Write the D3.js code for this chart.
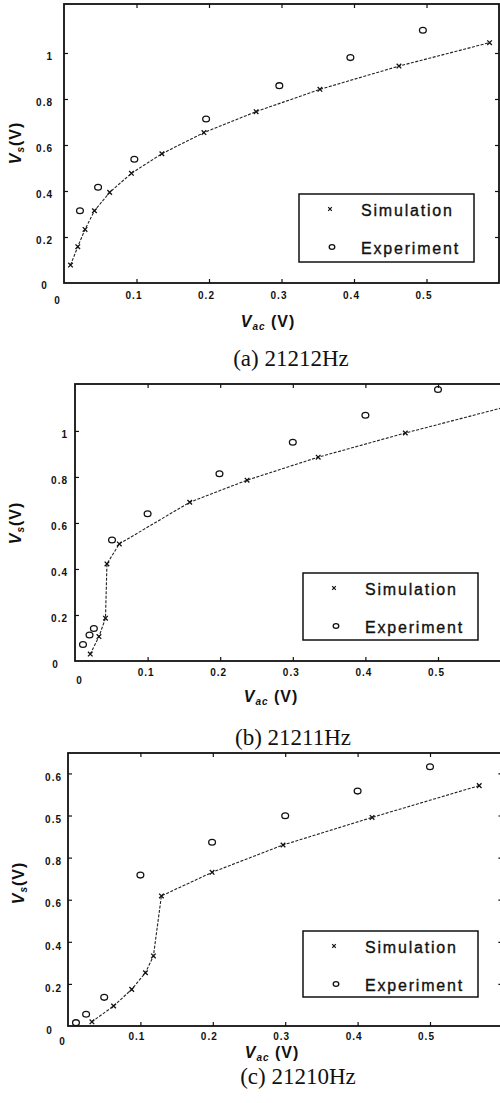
<!DOCTYPE html>
<html>
<head>
<meta charset="utf-8">
<script src="https://cdn.jsdelivr.net/npm/d3@7"></script>
<style>
	body{ margin:0; background:#fff; }
	svg{ display:block; }
	.tick text{ font-family:"Liberation Sans", Arial, sans-serif; font-size:10px; font-weight:bold; letter-spacing:1px; fill:#111; }
	.tick line{ stroke:#111; stroke-width:1.2; }
	.zero{ font-family:"Liberation Sans", Arial, sans-serif; font-size:10px; font-weight:bold; fill:#111; }
	.title{ font-family:"Liberation Sans", Arial, sans-serif; font-size:16px; font-weight:bold; letter-spacing:1px; fill:#111; }
	.legend-text{ font-family:"Liberation Sans", Arial, sans-serif; font-size:16px; letter-spacing:1.8px; fill:#111; stroke:#111; stroke-width:0.35; }
	.caption{ font-family:"Liberation Serif", "Times New Roman", serif; font-size:23px; fill:#111; }
</style>
</head>
<body>
<div id="chart"></div>
<script>
// values: [Vac, Vs]
var simA = [[0.009,0.078],[0.019,0.158],[0.029,0.233],[0.042,0.314],[0.063,0.394],[0.093,0.477],
	[0.135,0.562],[0.193,0.654],[0.265,0.745],[0.353,0.842],[0.462,0.943],[0.587,1.045]];
var expA = [[0.022,0.314],[0.047,0.416],[0.097,0.538],[0.196,0.713],[0.297,0.858],[0.395,0.980],[0.495,1.099]];

var simB = [[0.021,0.030],[0.033,0.106],[0.042,0.186],[0.044,0.422],[0.061,0.509],
	[0.158,0.690],[0.237,0.786],[0.335,0.886],[0.455,0.991],[0.600,1.110]];
var expB = [[0.011,0.072],[0.020,0.113],[0.026,0.141],[0.051,0.526],[0.100,0.640],
	[0.199,0.814],[0.300,0.951],[0.400,1.068],[0.500,1.180]];

var simC = [[0.033,0.020],[0.063,0.095],[0.088,0.174],[0.107,0.253],[0.118,0.333],
	[0.129,0.618],[0.199,0.730],[0.297,0.860],[0.420,0.991],[0.568,1.142]];
var expC = [[0.011,0.016],[0.025,0.056],[0.050,0.136],[0.100,0.717],[0.199,0.873],
	[0.300,0.999],[0.400,1.116],[0.500,1.232]];

var xTicks = [0.1, 0.2, 0.3, 0.4, 0.5];
var yTicksAB = [0.2, 0.4, 0.6, 0.8, 1];
var yTicksC = [0.2, 0.4, 0.6, 0.8, 1.0, 1.2];
var yLabelsC = ["0.2", "0.4", "0.6", "0.8", "0.5", "0.6"]; // as printed in the scan
var captions = ["(a) 21212Hz", "(b) 21211Hz", "(c) 21210Hz"];
var legendNames = ["Simulation", "Experiment"];

var svg = d3.select("#chart").append("svg")
	.attr("width", 500)
	.attr("height", 1103);

var panels = [
	{ sim: simA, exp: expA, yTicks: yTicksAB, yLabels: null, caption: captions[0],
	  left: 64, top: 4, width: 435, height: 279, xMax: 0.6, yMax: 1.213,
	  xPad: 9, xDx: -3, yPad: 11, yDy: 3, zeroX: [-7, 17], zeroY: [-20, 2.5],
	  yTitle: [21, 143], xTitle: [268, 327], cap: [291, 366], legend: [299, 194, 175, 68] },
	{ sim: simB, exp: expB, yTicks: yTicksAB, yLabels: null, caption: captions[1],
	  left: 75, top: 384, width: 435.6, height: 277, xMax: 0.6, yMax: 1.204,
	  xPad: 8, xDx: -2, yPad: 7, yDy: 3, zeroX: [4, 19], zeroY: [-20, 3],
	  yTitle: [21, 523], xTitle: [271, 702], cap: [293, 745], legend: [303, 573, 175, 67] },
	{ sim: simC, exp: expC, yTicks: yTicksC, yLabels: yLabelsC, caption: captions[2],
	  left: 68, top: 753, width: 434.4, height: 273, xMax: 0.6, yMax: 1.297,
	  xPad: 6.5, xDx: -4, yPad: 6, yDy: 4, zeroX: [-6, 15.7], zeroY: [-19, 4.7],
	  yTitle: [24, 883], xTitle: [272, 1057.5], cap: [298, 1084], legend: [303, 931, 175, 66] }
];

function crossPath(s){
	return "M" + (-s) + "," + (-s) + "L" + s + "," + s + "M" + (-s) + "," + s + "L" + s + "," + (-s);
}

function drawPanel(p){
	var x = d3.scaleLinear().domain([0, p.xMax]).range([p.left, p.left + p.width]);
	var y = d3.scaleLinear().domain([0, p.yMax]).range([p.top + p.height, p.top]);
	var bottom = p.top + p.height, right = p.left + p.width;

	var g = svg.append("g");

	// inward ticks on all four sides
	var bottomAxis = g.append("g")
		.attr("transform", "translate(0," + bottom + ")")
		.call(d3.axisBottom(x).tickValues(xTicks).tickSizeInner(-4).tickSizeOuter(0).tickPadding(p.xPad)
			.tickFormat(d3.format(".1f")));
	bottomAxis.selectAll("text").attr("x", p.xDx);

	g.append("g")
		.attr("transform", "translate(0," + p.top + ")")
		.call(d3.axisTop(x).tickValues(xTicks).tickSizeInner(-4).tickSizeOuter(0).tickFormat(""));

	var leftAxis = g.append("g")
		.attr("transform", "translate(" + p.left + ",0)")
		.call(d3.axisLeft(y).tickValues(p.yTicks).tickSizeInner(-4).tickSizeOuter(0).tickPadding(p.yPad)
			.tickFormat(function(d, i){ return p.yLabels ? p.yLabels[i] : d3.format("~g")(d); }));
	leftAxis.selectAll("text").attr("y", p.yDy);

	g.append("g")
		.attr("transform", "translate(" + right + ",0)")
		.call(d3.axisRight(y).tickValues(p.yTicks).tickSizeInner(-4).tickSizeOuter(0).tickFormat(""));

	g.selectAll(".domain").remove();

	g.append("rect")
		.attr("x", p.left).attr("y", p.top)
		.attr("width", p.width).attr("height", p.height)
		.attr("fill", "none").attr("stroke", "#111").attr("stroke-width", 1.8);

	// the two "0" labels sit apart from the other ticks
	g.append("text").attr("class", "zero")
		.attr("x", x(0) + p.zeroX[0]).attr("y", y(0) + p.zeroX[1] + 3.6)
		.attr("text-anchor", "middle").text("0");
	g.append("text").attr("class", "zero")
		.attr("x", x(0) + p.zeroY[0]).attr("y", y(0) + p.zeroY[1] + 3.6)
		.attr("text-anchor", "middle").text("0");

	// simulation curve
	var line = d3.line().x(d => x(d[0])).y(d => y(d[1]));
	g.append("path")
		.datum(p.sim)
		.attr("d", line)
		.attr("fill", "none")
		.attr("stroke", "#222")
		.attr("stroke-width", 1.1)
		.attr("stroke-dasharray", "3,1.5");

	g.append("g").selectAll("path")
		.data(p.sim.filter(d => d[0] <= p.xMax * 0.99))
		.enter().append("path")
		.attr("transform", d => "translate(" + x(d[0]) + "," + y(d[1]) + ")")
		.attr("d", crossPath(2.3))
		.attr("stroke", "#111")
		.attr("stroke-width", 1.3);

	g.append("g").selectAll("ellipse")
		.data(p.exp)
		.enter().append("ellipse")
		.attr("cx", d => x(d[0]))
		.attr("cy", d => y(d[1]))
		.attr("rx", 3.4).attr("ry", 2.9)
		.attr("fill", "none")
		.attr("stroke", "#111")
		.attr("stroke-width", 1.3);

	// legend
	var lg = p.legend;
	var legend = g.append("g").attr("transform", "translate(" + lg[0] + "," + lg[1] + ")");
	legend.append("rect")
		.attr("width", lg[2]).attr("height", lg[3])
		.attr("fill", "#fff").attr("stroke", "#111").attr("stroke-width", 1.5);
	legend.append("path")
		.attr("transform", "translate(31,15)")
		.attr("d", crossPath(1.8))
		.attr("stroke", "#111").attr("stroke-width", 1.2);
	legend.append("ellipse")
		.attr("cx", 33).attr("cy", 53).attr("rx", 2.8).attr("ry", 2.3)
		.attr("fill", "none").attr("stroke", "#111").attr("stroke-width", 1.3);
	legend.selectAll("text")
		.data(legendNames)
		.enter().append("text")
		.attr("class", "legend-text")
		.attr("x", 62)
		.attr("y", (d, i) => i ? 60 : 22)
		.text(d => d);

	// axis titles
	var yt = g.append("text").attr("class", "title")
		.attr("transform", "translate(" + p.yTitle[0] + "," + p.yTitle[1] + ") rotate(-90)")
		.attr("text-anchor", "middle");
	yt.append("tspan").attr("font-style", "italic").text("V");
	yt.append("tspan").attr("font-style", "italic").attr("font-size", "10px").attr("dy", 3).text("s");
	yt.append("tspan").attr("dy", -3).text("(V)");

	var xt = g.append("text").attr("class", "title")
		.attr("x", p.xTitle[0]).attr("y", p.xTitle[1])
		.attr("text-anchor", "middle");
	xt.append("tspan").attr("font-style", "italic").text("V");
	xt.append("tspan").attr("font-style", "italic").attr("font-size", "10px").attr("dy", 3).text("ac");
	xt.append("tspan").attr("dy", -3).text(" (V)");

	g.append("text").attr("class", "caption")
		.attr("x", p.cap[0]).attr("y", p.cap[1])
		.attr("text-anchor", "middle")
		.text(p.caption);
}

panels.forEach(drawPanel);
</script>
</body>
</html>
